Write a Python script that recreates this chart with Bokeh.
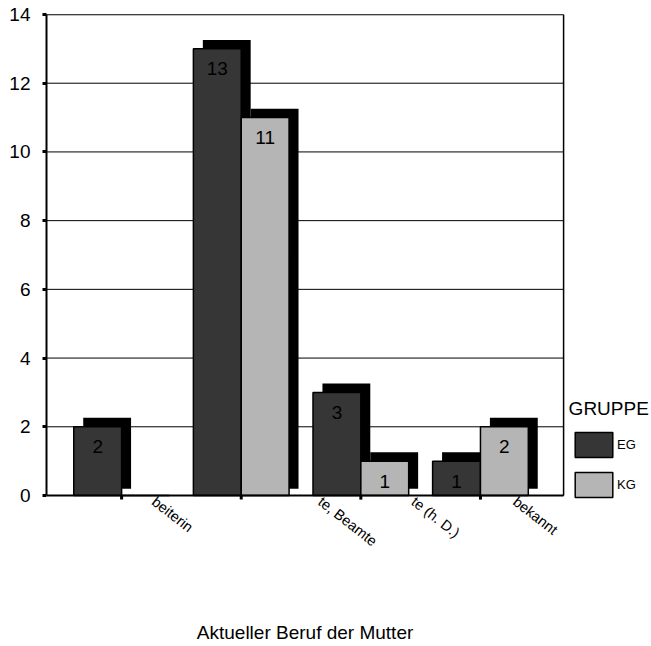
from bokeh.plotting import figure
from bokeh.models import (ColumnDataSource, Range1d, FixedTicker, Legend, LegendItem,
                          LabelSet)
from bokeh.core.properties import value
from bokeh.transform import dodge
from bokeh.embed import file_html
from bokeh.resources import INLINE

# ---------------- data ----------------
gruppen = ["EG", "KG"]
kategorie_nr = [1, 2, 3, 4]
kategorie_labels = ["beiterin", "te, Beamte", "te (h. D.)", "bekannt"]
eg_werte = [2, 13, 3, 1]
kg_werte = [0, 11, 1, 2]
y_ticks = [0, 2, 4, 6, 8, 10, 12, 14]
legend_titel = "GRUPPE"
x_titel = "Aktueller Beruf der Mutter"

# ---------------- style ----------------
FONT = "Liberation Sans"
EG_COLOR = "#363636"
KG_COLOR = "#b5b5b5"
BAR_W = 0.4
DODGE = 0.2
SHADOW_DX = 0.079
SHADOW_DY = 0.26
SHADOW_BASE = 0.2
X_LO, X_HI = 0.372, 4.695          # plot-area limits (data units)
Y_LO, Y_HI = 0, 14
TICK = 0.12                         # x tick length (data units)
label_x = [1.31, 2.70, 3.48, 4.33]  # positions of the clipped category labels
label_y = 0.06
label_angle = -38
GRUPPE_POS = (4.737, 2.52)
TITLE_Y = -3.98

src = ColumnDataSource(dict(
    pos=kategorie_nr, eg=eg_werte, kg=kg_werte,
    eg_sh=[v + SHADOW_DY if v > 0 else SHADOW_BASE for v in eg_werte],
    kg_sh=[v + SHADOW_DY if v > 0 else SHADOW_BASE for v in kg_werte],
))

p = figure(width=651, height=646,
           x_range=Range1d(X_LO, 5.430), y_range=Range1d(-4.395, Y_HI),
           output_backend="svg", toolbar_location=None,
           x_axis_location=None, y_axis_location="left",
           min_border_left=46, min_border_top=14, min_border_bottom=0,
           min_border_right=0)
p.background_fill_color = "white"
p.border_fill_color = "white"
p.outline_line_color = None
p.xgrid.visible = False
p.ygrid.visible = False

# grid lines and plot-area border
p.segment(x0=X_LO, x1=X_HI, y0=y_ticks, y1=y_ticks, line_color="black", line_width=1)
p.segment(x0=X_HI, x1=X_HI, y0=Y_LO, y1=Y_HI, line_color="black", line_width=1.5)
p.segment(x0=X_LO, x1=X_HI, y0=Y_HI, y1=Y_HI, line_color="black", line_width=1.5)

# shadows
p.vbar(x=dodge("pos", -DODGE + SHADOW_DX), width=BAR_W, top="eg_sh", bottom=SHADOW_BASE,
       source=src, fill_color="black", line_color=None)
p.vbar(x=dodge("pos", DODGE + SHADOW_DX), width=BAR_W, top="kg_sh", bottom=SHADOW_BASE,
       source=src, fill_color="black", line_color=None)
# bars
r_eg = p.vbar(x=dodge("pos", -DODGE), width=BAR_W, top="eg", bottom=0, source=src,
              fill_color=EG_COLOR, line_color="black", line_width=1.5)
r_kg = p.vbar(x=dodge("pos", DODGE), width=BAR_W, top="kg", bottom=0, source=src,
              fill_color=KG_COLOR, line_color="black", line_width=1.5)

# x axis line and ticks
p.segment(x0=X_LO, x1=X_HI, y0=0, y1=0, line_color="black", line_width=2)
p.segment(x0="pos", x1="pos", y0=0, y1=-TICK, source=src, line_color="black",
          line_width=3)

# value labels (non-zero only)
lx, ly, lt = [], [], []
for n, e, k in zip(kategorie_nr, eg_werte, kg_werte):
    if e:
        lx.append(n - DODGE); ly.append(e); lt.append(str(e))
    if k:
        lx.append(n + DODGE); ly.append(k); lt.append(str(k))
lab_src = ColumnDataSource(dict(x=lx, y=ly, t=lt))
p.add_layout(LabelSet(x="x", y="y", text="t", source=lab_src, y_offset=-20,
                      text_align="center", text_baseline="middle",
                      text_font=value(FONT), text_font_size="19px",
                      text_color="black"))

# y axis
p.yaxis.bounds = (Y_LO, Y_HI)
p.yaxis.ticker = FixedTicker(ticks=y_ticks)
p.yaxis.major_tick_out = 4
p.yaxis.major_tick_in = 0
p.yaxis.major_tick_line_width = 3
p.yaxis.minor_tick_line_color = None
p.yaxis.axis_line_width = 2
p.yaxis.major_label_text_font = FONT
p.yaxis.major_label_text_font_size = "19px"
p.yaxis.major_label_text_color = "black"
p.yaxis.major_label_standoff = 12

# clipped category labels
cat_src = ColumnDataSource(dict(x=label_x, y=[label_y] * len(label_x), t=kategorie_labels))
p.text(x="x", y="y", text="t", source=cat_src, angle=label_angle, angle_units="deg",
       text_align="left", text_baseline="top", text_font=value(FONT),
       text_font_size="14.5px", text_color="black")

# axis title
p.text(x=[(X_LO + X_HI) / 2], y=[TITLE_Y], text=[x_titel], text_align="center",
       text_baseline="middle", text_font=value(FONT), text_font_size="19px",
       text_color="black")

# legend
p.text(x=[GRUPPE_POS[0]], y=[GRUPPE_POS[1]], text=[legend_titel], text_align="left",
       text_baseline="middle", text_font=value(FONT), text_font_size="19px",
       text_color="black")
legend = Legend(items=[LegendItem(label=gruppen[0], renderers=[r_eg]),
                       LegendItem(label=gruppen[1], renderers=[r_kg])],
                location=(524, 146), orientation="vertical",
                glyph_width=47, glyph_height=31, label_standoff=0, spacing=9,
                padding=0, margin=0, border_line_color=None,
                background_fill_alpha=0,
                label_text_font=FONT, label_text_font_size="13px",
                label_text_color="black")
p.add_layout(legend, "center")

open("out.html", "w").write(file_html(p, INLINE))
